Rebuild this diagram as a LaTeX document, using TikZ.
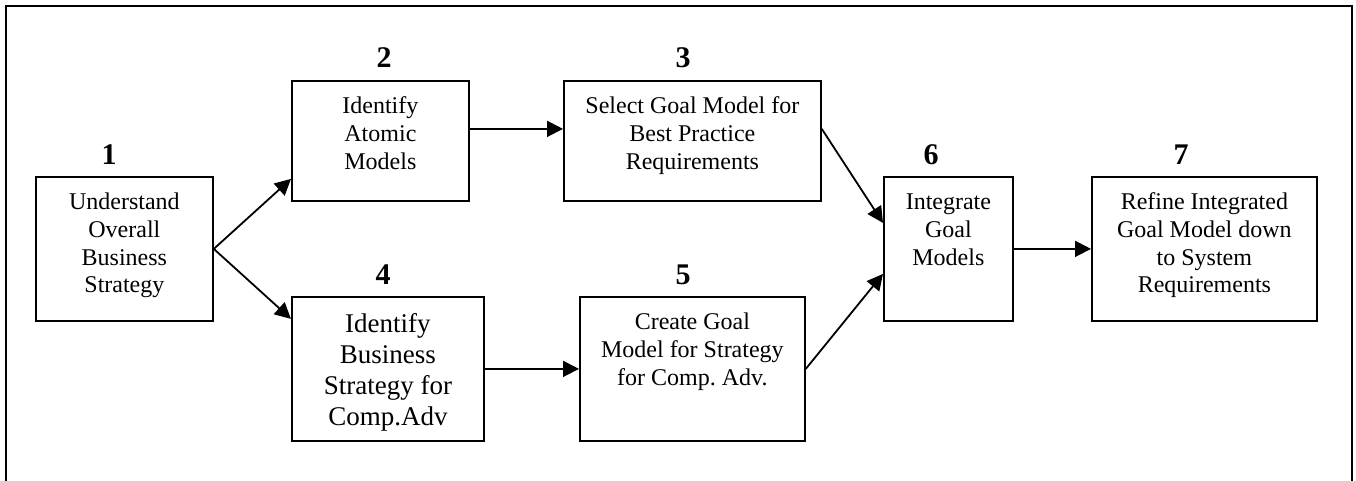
\documentclass[tikz,border=0pt]{standalone}
\usepackage{fontspec}
\setmainfont{Liberation Serif}
\usetikzlibrary{arrows.meta}
\frenchspacing
\newcommand{\boxtext}[4]{\begin{minipage}[t][#2][t]{#1}\centering\rule{0pt}{#3}#4\end{minipage}}
\tikzset{
  stepbox/.style={draw, line width=0.9pt, inner sep=0pt, anchor=north west, font=\fontsize{12}{13.8}\selectfont},
  bigbox/.style={stepbox, font=\fontsize{13.5}{15.5}\selectfont},
  num/.style={anchor=base, inner sep=0pt, font=\fontsize{15}{18}\selectfont\bfseries},
  conn/.style={line width=0.9pt, -{Triangle[length=8pt,width=8pt]}},
  frame/.style={line width=1pt}
}
\begin{document}
\begin{tikzpicture}[x=0.5pt,y=-0.5pt]
\useasboundingbox (0,0) rectangle (1356,481);
\draw[frame] (6,495) -- (6,6) -- (1352,6) -- (1352,495);

\node[stepbox] (b1) at (35,176) {\boxtext{88.5pt}{72pt}{16.5pt}{Understand\\Overall\\Business\\Strategy}};
\node[stepbox] (b2) at (291,80) {\boxtext{88.5pt}{60pt}{16.5pt}{Identify\\Atomic\\Models}};
\node[stepbox] (b3) at (563,80) {\boxtext{128.5pt}{60pt}{16.5pt}{Select Goal Model for\\Best Practice\\Requirements}};
\node[bigbox] (b4) at (291,296) {\boxtext{96pt}{72pt}{18pt}{Identify\\Business\\Strategy for\\Comp.Adv}};
\node[stepbox] (b5) at (579,296) {\boxtext{112.5pt}{72pt}{16.5pt}{Create Goal\\Model for Strategy\\for Comp. Adv.}};
\node[stepbox] (b6) at (883,176) {\boxtext{64.5pt}{72pt}{16.5pt}{Integrate\\Goal\\Models}};
\node[stepbox] (b7) at (1091,176) {\boxtext{112.5pt}{72pt}{16.5pt}{Refine Integrated\\Goal Model down\\to System\\Requirements}};

\node[num] (n1) at (109,165) {1};
\node[num] (n2) at (384,68) {2};
\node[num] (n3) at (683,68) {3};
\node[num] (n4) at (383,285) {4};
\node[num] (n5) at (683,285) {5};
\node[num] (n6) at (931,165) {6};
\node[num] (n7) at (1181,165) {7};

\draw[conn] (b1.east) -- ([yshift=-19pt]b2.west);
\draw[conn] (b1.east) -- ([yshift=25pt]b4.west);
\draw[conn] ([yshift=6pt]b2.east) -- ([yshift=6pt]b3.west);
\draw[conn] ([yshift=6pt]b3.east) -- ([yshift=13pt]b6.west);
\draw[conn] (b4.east) -- (b5.west);
\draw[conn] (b5.east) -- ([yshift=-12.5pt]b6.west);
\draw[conn] (b6.east) -- (b7.west);
\end{tikzpicture}
\end{document}
